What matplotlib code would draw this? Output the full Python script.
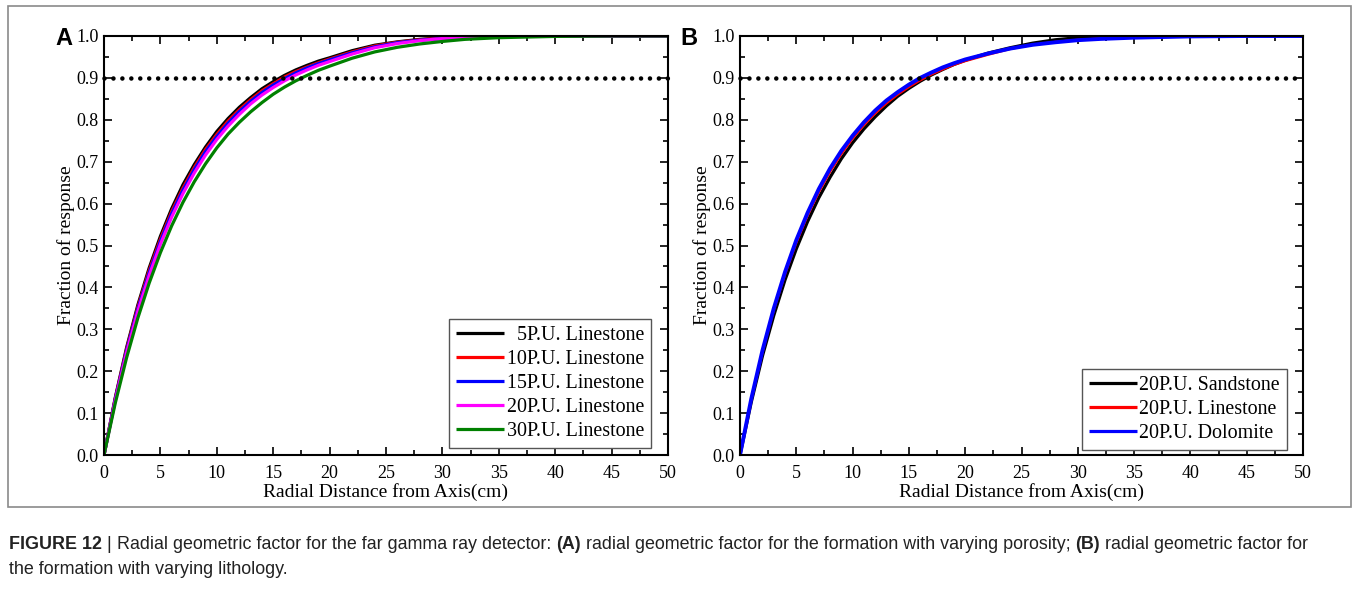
import matplotlib
matplotlib.use("Agg")
import matplotlib.pyplot as plt
from matplotlib.patches import Rectangle

# ---- data -------------------------------------------------------------
radius = [0, 1, 2, 3, 4, 5, 6, 7, 8, 9, 10, 11, 12, 13, 14, 15, 16, 17, 18,
          19, 20, 22, 24, 26, 28, 30, 32, 35, 40, 45, 50]

# (A) Limestone at varying porosity
ls_5pu = [0, 0.137, 0.256, 0.358, 0.446, 0.522, 0.588, 0.645, 0.693, 0.735,
          0.772, 0.803, 0.830, 0.853, 0.874, 0.891, 0.906, 0.919, 0.930,
          0.940, 0.948, 0.965, 0.978, 0.986, 0.992, 0.996, 0.998, 1.0, 1.0,
          1.0, 1.0]
ls_10pu = [0, 0.135, 0.252, 0.353, 0.440, 0.515, 0.581, 0.637, 0.686, 0.729,
           0.765, 0.797, 0.824, 0.848, 0.869, 0.886, 0.902, 0.915, 0.926,
           0.936, 0.945, 0.962, 0.976, 0.985, 0.991, 0.995, 0.998, 0.999,
           1.0, 1.0, 1.0]
ls_15pu = [0, 0.133, 0.249, 0.349, 0.435, 0.510, 0.576, 0.632, 0.681, 0.724,
           0.760, 0.792, 0.820, 0.844, 0.865, 0.883, 0.898, 0.912, 0.924,
           0.934, 0.943, 0.960, 0.974, 0.984, 0.990, 0.994, 0.997, 0.999,
           1.0, 1.0, 1.0]
ls_20pu = [0, 0.130, 0.244, 0.343, 0.428, 0.503, 0.568, 0.624, 0.673, 0.716,
           0.753, 0.785, 0.813, 0.838, 0.859, 0.877, 0.893, 0.907, 0.919,
           0.930, 0.939, 0.957, 0.972, 0.982, 0.989, 0.994, 0.997, 0.999,
           1.0, 1.0, 1.0]
ls_30pu = [0, 0.124, 0.232, 0.327, 0.410, 0.483, 0.547, 0.603, 0.652, 0.695,
           0.733, 0.766, 0.794, 0.819, 0.841, 0.861, 0.878, 0.893, 0.906,
           0.918, 0.928, 0.947, 0.962, 0.973, 0.981, 0.987, 0.992, 0.996,
           0.999, 1.0, 1.0]

# (B) 20 P.U. formations of varying lithology
sandstone = [0, 0.126, 0.237, 0.333, 0.418, 0.492, 0.557, 0.614, 0.663, 0.707,
             0.745, 0.778, 0.807, 0.833, 0.856, 0.875, 0.892, 0.907, 0.920,
             0.932, 0.942, 0.959, 0.972, 0.983, 0.991, 0.996, 0.999, 1.0, 1.0,
             1.0, 1.0]
limestone = [0, 0.131, 0.245, 0.345, 0.431, 0.506, 0.571, 0.627, 0.676, 0.718,
             0.755, 0.787, 0.815, 0.839, 0.860, 0.878, 0.894, 0.908, 0.920,
             0.931, 0.940, 0.955, 0.969, 0.979, 0.986, 0.991, 0.994, 0.997,
             0.999, 1.0, 1.0]
dolomite = [0, 0.134, 0.250, 0.350, 0.437, 0.513, 0.578, 0.635, 0.684, 0.726,
            0.762, 0.794, 0.822, 0.846, 0.866, 0.884, 0.900, 0.913, 0.925,
            0.935, 0.944, 0.958, 0.970, 0.979, 0.985, 0.990, 0.993, 0.996,
            0.999, 1.0, 1.0]

threshold = 0.9

labels_a = ["  5P.U. Linestone", "10P.U. Linestone", "15P.U. Linestone",
            "20P.U. Linestone", "30P.U. Linestone"]
labels_b = ["20P.U. Sandstone", "20P.U. Linestone", "20P.U. Dolomite"]

xticks = [0, 5, 10, 15, 20, 25, 30, 35, 40, 45, 50]
yticks = [0.0, 0.1, 0.2, 0.3, 0.4, 0.5, 0.6, 0.7, 0.8, 0.9, 1.0]

# ---- figure -----------------------------------------------------------
W, H = 1356, 591
fig = plt.figure(figsize=(W / 100, H / 100), dpi=100)
fig.patch.set_facecolor("white")

serif = ["Liberation Serif", "DejaVu Serif"]
sans = ["Liberation Sans", "DejaVu Sans"]

# outer frame
fig.patches.append(Rectangle((8 / W, 1 - 507 / H), (1351 - 8) / W, (507 - 6) / H,
                             transform=fig.transFigure, fill=False,
                             edgecolor="#8a8a8a", linewidth=1.2))


def px_axes(x0, x1, y0, y1):
    return fig.add_axes([x0 / W, 1 - y1 / H, (x1 - x0) / W, (y1 - y0) / H])


ax_a = px_axes(104, 668, 36, 455)
ax_b = px_axes(740, 1303, 36, 455)


def style(ax):
    ax.set_xlim(0, 50)
    ax.set_ylim(0, 1.0)
    ax.set_xticks(xticks)
    ax.set_yticks(yticks)
    ax.set_xticks([x + 2.5 for x in xticks[:-1]], minor=True)
    ax.set_yticks([y + 0.05 for y in yticks[:-1]], minor=True)
    ax.set_xticklabels([str(x) for x in xticks], fontfamily=serif, fontsize=13)
    ax.set_yticklabels([f"{y:.1f}" for y in yticks], fontfamily=serif, fontsize=13)
    ax.tick_params(which="both", direction="in", top=True, right=True,
                   width=1.2, colors="black")
    ax.tick_params(which="major", length=6)
    ax.tick_params(which="minor", length=3.5)
    ax.tick_params(axis="x", which="major", pad=7)
    ax.tick_params(axis="y", which="major", pad=4)
    for s in ax.spines.values():
        s.set_linewidth(1.5)
    ax.set_xlabel("Radial Distance from Axis(cm)", fontfamily=serif,
                  fontsize=14, labelpad=1)
    ax.set_ylabel("Fraction of response", fontfamily=serif, fontsize=14,
                  labelpad=1)
    ax.plot([0, 50], [threshold, threshold], color="black", lw=3.3,
            ls=(0, (0.001, 1.95)), dash_capstyle="round", clip_on=False,
            zorder=5)


style(ax_a)
style(ax_b)

series_a = [ls_5pu, ls_10pu, ls_15pu, ls_20pu, ls_30pu]
colors_a = ["black", "#ff0000", "#0000ff", "#ff00ff", "#008000"]
for ys, c, lab in zip(series_a, colors_a, labels_a):
    ax_a.plot(radius, ys, color=c, lw=2.3, label=lab, solid_capstyle="butt")

series_b = [sandstone, limestone, dolomite]
colors_b = ["black", "#ff0000", "#0000ff"]
widths_b = [2.3, 1.6, 2.8]
for ys, c, w, lab in zip(series_b, colors_b, widths_b, labels_b):
    ax_b.plot(radius, ys, color=c, lw=w, label=lab, solid_capstyle="butt")


def legend(ax, anchor):
    leg = ax.legend(loc="lower right", bbox_to_anchor=anchor, borderaxespad=0,
                    prop={"family": serif, "size": 14.4}, frameon=True,
                    fancybox=False, framealpha=1, edgecolor="#555555",
                    handlelength=2.4, handletextpad=0.12, labelspacing=0.24,
                    borderpad=0.36)
    leg.get_frame().set_linewidth(1.0)
    for h in leg.get_lines():
        h.set_linewidth(2.3)
    return leg


legend(ax_a, (0.970, 0.017))
legend(ax_b, (0.9716, 0.012))

# panel letters
fig.text(55 / W, 1 - 45 / H, "A", fontfamily=sans, fontweight="bold",
         fontsize=17, ha="left", va="baseline")
fig.text(680 / W, 1 - 45 / H, "B", fontfamily=sans, fontweight="bold",
         fontsize=17, ha="left", va="baseline")

# caption written as consecutive runs of regular / bold text
cap_size = 12.85
line1 = [("FIGURE 12", "bold"), (" | ", "normal"),
         ("Radial geometric factor for the far gamma ray detector: ", "normal"),
         ("(A)", "bold"),
         (" radial geometric factor for the formation with varying porosity; ",
          "normal"),
         ("(B)", "bold"), (" radial geometric factor for", "normal")]
line2 = [("the formation with varying lithology.", "normal")]

fig.canvas.draw()
renderer = fig.canvas.get_renderer()


def write_runs(runs, x_px, y_px):
    x = x_px
    for txt, weight in runs:
        t = fig.text(x / W, 1 - y_px / H, txt, fontfamily=sans,
                     fontweight=weight, fontsize=cap_size, color="#222222",
                     ha="left", va="baseline")
        bb = t.get_window_extent(renderer)
        x += bb.width


write_runs(line1, 9, 549)
write_runs(line2, 9, 574)

fig.savefig("out.png", dpi=100, facecolor="white")
